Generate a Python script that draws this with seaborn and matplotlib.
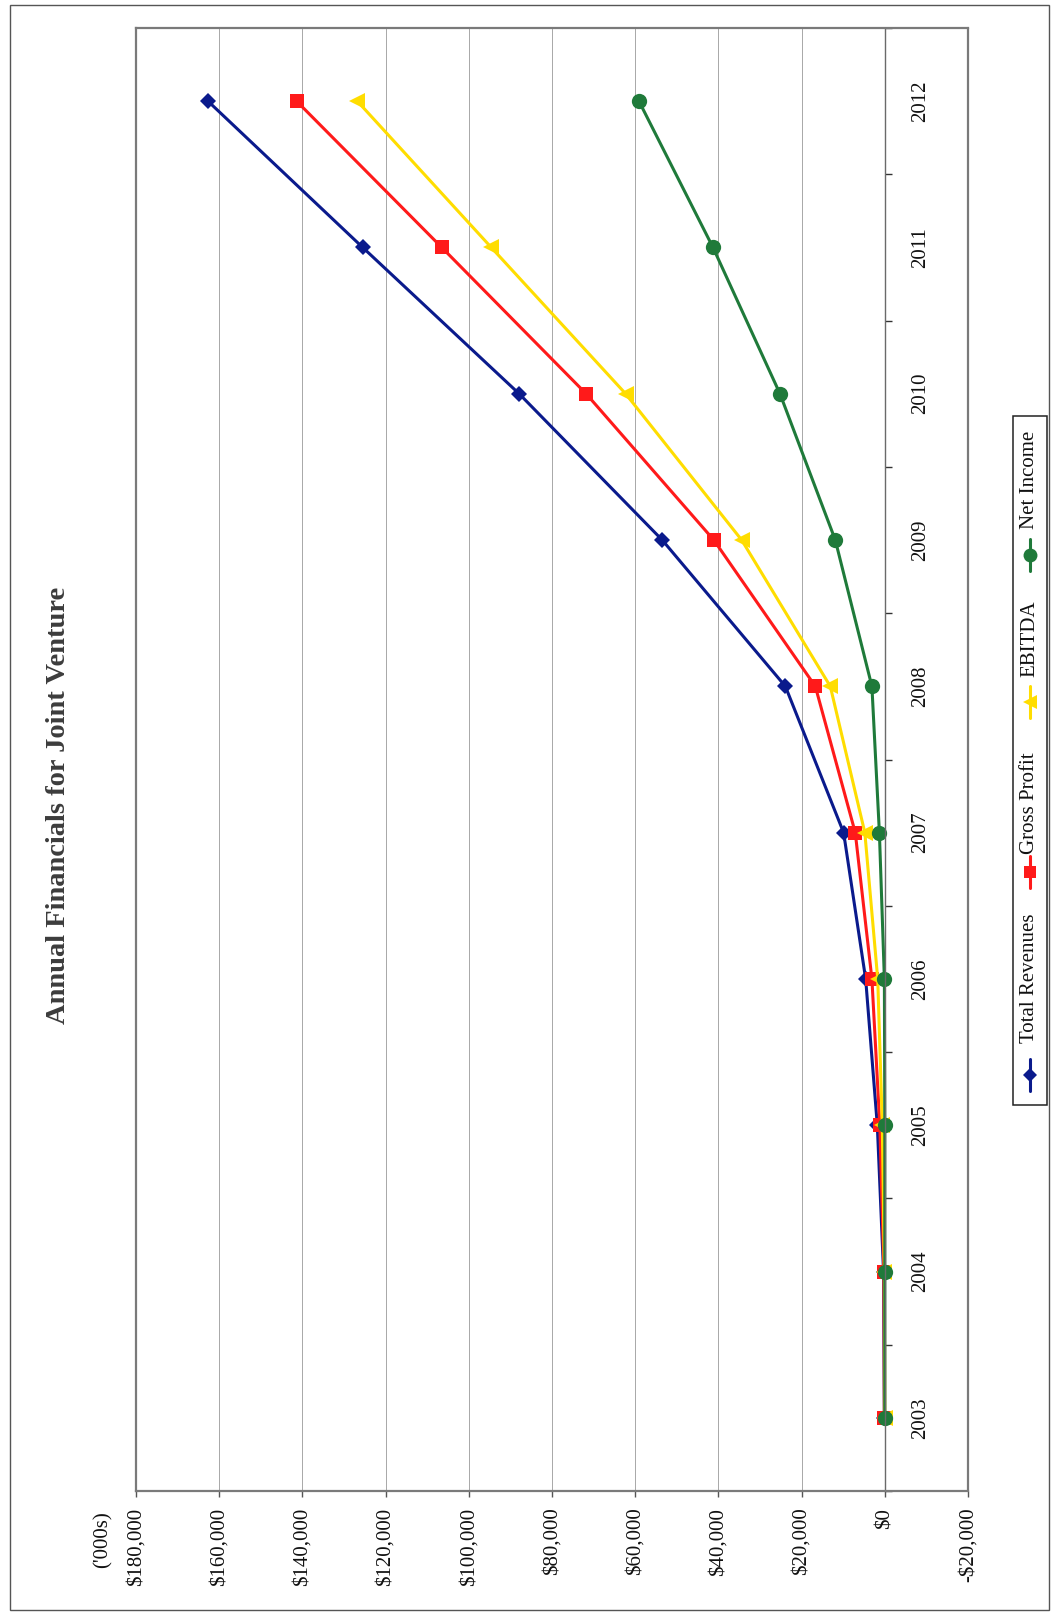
import matplotlib
matplotlib.use("Agg")
import matplotlib.pyplot as plt
from matplotlib.lines import Line2D
from matplotlib.patches import Rectangle
from matplotlib.ticker import FuncFormatter, FixedLocator
import seaborn as sns
import numpy as np

# Annual figures, $ thousands
years = [2003, 2004, 2005, 2006, 2007, 2008, 2009, 2010, 2011, 2012]
total_revenues = [100, 300, 1800, 4600, 9900, 23900, 53500, 87900, 125500, 162700]
gross_profit = [100, 200, 1200, 3100, 7100, 16700, 41100, 71800, 106500, 141400]
ebitda = [0, 100, 600, 1700, 4800, 13100, 34400, 62300, 94600, 126800]
net_income = [0, 0, 0, 100, 1300, 3100, 11900, 25200, 41300, 59100]

series_names = ["Total Revenues", "Gross Profit", "EBITDA", "Net Income"]
series_values = [total_revenues, gross_profit, ebitda, net_income]
series_colors = ["#0a1a8c", "#ff1a1a", "#ffdd00", "#1f7a3a"]
series_markers = ["D", "s", "<", "o"]
series_msize = [8, 10, 11, 11]

value_ticks = [180000, 160000, 140000, 120000, 100000, 80000, 60000, 40000, 20000, 0, -20000]

sns.set_theme(style="white")
plt.rcParams["font.family"] = ["Liberation Serif", "DejaVu Serif"]

W, H = 1053, 1612
fig = plt.figure(figsize=(W / 100, H / 100), dpi=100)
fig.patch.set_facecolor("white")

# page is laid out sideways: values run right-to-left, years bottom-to-top
ax = fig.add_axes([136 / W, 1 - 1491 / H, (968 - 136) / W, (1491 - 28) / H])
ax.set_facecolor("white")

for name, vals, col, mk, ms in zip(series_names, series_values, series_colors,
                                   series_markers, series_msize):
    sns.lineplot(x=vals, y=years, orient="y", ax=ax, color=col, linewidth=2.2,
                 marker=mk, markersize=ms, markeredgecolor=col, markeredgewidth=0,
                 label=None, legend=False)

ax.set_xlim(180000, -20000)
ax.set_ylim(2002.5, 2012.5)

# value axis
ax.xaxis.set_major_locator(FixedLocator(value_ticks))
def money(v, pos):
    v = int(round(v))
    return f"-${abs(v):,}" if v < 0 else f"${v:,}"
ax.xaxis.set_major_formatter(FuncFormatter(money))
ax.tick_params(axis="x", which="major", bottom=True, direction="out", length=4,
               width=1, color="#555555", pad=8, labelsize=15, labelcolor="#111111",
               labelrotation=90)
ax.grid(axis="x", color="#a8a8a8", linewidth=0.7)
ax.grid(axis="y", visible=False)

# category axis sits on the zero line
ax.yaxis.tick_right()
ax.spines["right"].set_position(("data", 0))
ax.spines["right"].set_color("#6a6a6a")
ax.spines["right"].set_linewidth(1.0)
ax.set_yticks(years)
ax.set_yticklabels([str(y) for y in years])
ax.yaxis.set_minor_locator(FixedLocator([y + 0.5 for y in [2002] + years]))
ax.tick_params(axis="y", which="major", right=True, left=False, length=0, pad=19,
               labelsize=15, labelcolor="#111111", labelright=True, labelleft=False)
ax.tick_params(axis="y", which="minor", right=True, left=False, direction="out",
               length=5, width=1, color="#333333")
for lab in ax.get_yticklabels():
    lab.set_rotation(90)
    lab.set_va("center")

for side in ["left", "top", "bottom"]:
    ax.spines[side].set_color("#7a7a7a")
    ax.spines[side].set_linewidth(1.6)
ax.axvline(-20000, color="#7a7a7a", linewidth=1.6, clip_on=False)

# title and unit note
fig.text(59 / W, 1 - 805 / H, "Annual Financials for Joint Venture", rotation=90,
         ha="center", va="center", fontsize=20.5, fontweight="bold", color="#3c3c3c")
fig.text(103 / W, 1 - 1540 / H, "('000s)", rotation=90, ha="center", va="center",
         fontsize=15, color="#111111")

# legend box, stacked sideways
fig.add_artist(Rectangle((1013 / W, 1 - 1105 / H), 34 / W, (1105 - 416) / H,
                         transform=fig.transFigure, fill=False, edgecolor="#222222",
                         linewidth=1.1))
lx = 1030
marker_y = [1075, 872, 702, 555]
text_y = [978, 803, 639, 480]
for name, col, mk, ms, my, ty in zip(series_names, series_colors, series_markers,
                                     series_msize, marker_y, text_y):
    fig.add_artist(Line2D([lx / W, lx / W], [1 - (my + 16) / H, 1 - (my - 16) / H],
                          transform=fig.transFigure, color=col, linewidth=2.2))
    fig.add_artist(Line2D([lx / W], [1 - my / H], transform=fig.transFigure,
                          color=col, marker=mk, markersize=ms - 1, markeredgewidth=0,
                          linestyle="none"))
    fig.text(lx / W, 1 - ty / H, name, rotation=90, ha="center", va="center",
             fontsize=15, color="#111111")

# page border
fig.add_artist(Rectangle((10 / W, 1 - 1610 / H), (1049 - 10) / W, (1610 - 5) / H,
                         transform=fig.transFigure, fill=False, edgecolor="#555555",
                         linewidth=1.0))

fig.savefig("out.png", dpi=100, facecolor="white")
